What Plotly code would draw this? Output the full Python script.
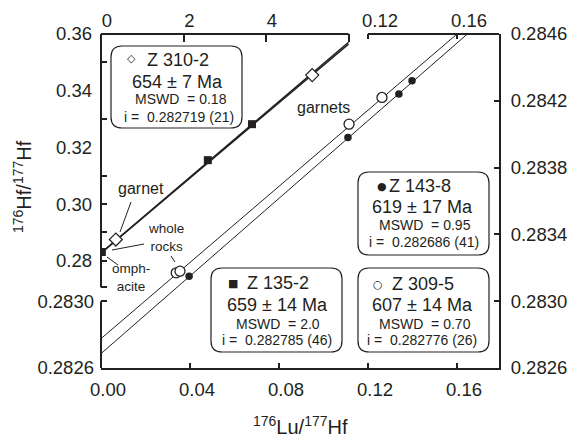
import math
import plotly.graph_objects as go

FONT = "Liberation Sans, Arial, Helvetica, sans-serif"
SYMFONT = "DejaVu Sans, Liberation Sans, sans-serif"
INK = "#231f20"

# ---------------- data ----------------
# Inset isochron (top axis 176Lu/177Hf 0-6, left axis 0.28-0.36)
z310_x = [0.36, 5.12]            # Z 310-2: whole rock, garnet (open diamonds)
z310_y = [0.2875, 0.3455]
z135_x = [0.02, 2.59, 3.66]      # Z 135-2: omphacite + garnets (filled squares)
z135_y = [0.2831, 0.3155, 0.3282]

# Main isochron (bottom axis 0-0.18, right axis 0.2826-0.2846)
z309_x = [0.0338, 0.0355, 0.1115, 0.1263]   # Z 309-5 open circles
z309_y = [0.28317, 0.28318, 0.28406, 0.28422]
z143_x = [0.0396, 0.1110, 0.1339, 0.1398]   # Z 143-8 filled circles
z143_y = [0.28315, 0.28398, 0.28424, 0.28432]

samples = ["Z 310-2", "Z 135-2", "Z 143-8", "Z 309-5"]
ages = [654, 659, 619, 607]
age_err = [7, 14, 17, 14]
mswd = ["0.18", "2.0", "0.95", "0.70"]
initials = [0.282719, 0.282785, 0.282686, 0.282776]
init_err = [21, 46, 41, 26]
LAMBDA = 1.867e-11  # 176Lu decay constant (1/yr)

bottom_ticks = [0.00, 0.04, 0.08, 0.12, 0.16]
right_ticks = [0.2826, 0.2830, 0.2834, 0.2838, 0.2842, 0.2846]
top_left_ticks = [0, 2, 4, 6]
top_left_labels = ["0", "2", "4", " "]
top_right_ticks = [0.12, 0.16]
left_upper_ticks = [0.28, 0.30, 0.32, 0.34, 0.36]
left_upper_minor = [0.2707, 0.28, 0.29, 0.30, 0.31, 0.33, 0.35]
left_lower_ticks = [0.2826, 0.2830]

# ---------------- geometry ----------------
W, H = 574, 440
L, R, T, B = 101, 499, 34, 368
X_RANGE = [0, 0.1789]
Y_RANGE = [0.2826, 0.2846]
X2_RANGE = [0, 9.648]
Y2_RANGE = [0.24219, 0.36]
INSET_XMAX = 6


def px(xp):
    return (xp - L) / (R - L)


def py(yp):
    return (B - yp) / (B - T)


def slope(age_ma):
    return math.exp(LAMBDA * age_ma * 1e6) - 1


def iso_line(k, x0, x1):
    s = slope(ages[k])
    return [x0, x1], [initials[k] + s * x0, initials[k] + s * x1]


fig = go.Figure()

# isochron lines
for k, (xa, ya, w) in {1: ("x2", "y2", 1.4), 0: ("x2", "y2", 1.4),
                       3: ("x", "y", 1.0), 2: ("x", "y", 1.0)}.items():
    xmax = INSET_XMAX if xa == "x2" else X_RANGE[1]
    lx, ly = iso_line(k, 0, xmax)
    fig.add_trace(go.Scatter(x=lx, y=ly, xaxis=xa, yaxis=ya, mode="lines",
                             line=dict(color=INK, width=w), hoverinfo="skip",
                             showlegend=False))

# data points
fig.add_trace(go.Scatter(x=z135_x, y=z135_y, xaxis="x2", yaxis="y2", mode="markers",
                         marker=dict(symbol="square", size=8, color=INK),
                         showlegend=False))
fig.add_trace(go.Scatter(x=z310_x, y=z310_y, xaxis="x2", yaxis="y2", mode="markers",
                         marker=dict(symbol="diamond", size=10, color="white",
                                     line=dict(color=INK, width=1.2)),
                         showlegend=False))
fig.add_trace(go.Scatter(x=z143_x, y=z143_y, mode="markers",
                         marker=dict(symbol="circle", size=7.5, color=INK),
                         showlegend=False))
fig.add_trace(go.Scatter(x=z309_x, y=z309_y, mode="markers",
                         marker=dict(symbol="circle", size=10, color="white",
                                     line=dict(color=INK, width=1.3)),
                         showlegend=False))
# dummy traces to instantiate label-only axes
fig.add_trace(go.Scatter(x=[None], y=[None], xaxis="x3", yaxis="y", showlegend=False,
                         hoverinfo="skip"))
fig.add_trace(go.Scatter(x=[None], y=[None], xaxis="x", yaxis="y3", showlegend=False,
                         hoverinfo="skip"))

TICKFONT = dict(family=FONT, size=18.5, color=INK)
common = dict(showgrid=False, zeroline=False, automargin=False, tickcolor=INK,
              tickfont=TICKFONT, tickmode="array")

fig.update_layout(
    width=W, height=H,
    margin=dict(l=L, r=W - R, t=T, b=H - B, pad=0),
    paper_bgcolor="white", plot_bgcolor="white",
    font=dict(family=FONT, color=INK),
    xaxis=dict(range=X_RANGE, side="bottom", anchor="y", showline=True, linewidth=2,
               linecolor=INK, ticks="inside", ticklen=5, tickwidth=1.5,
               tickvals=bottom_ticks, ticktext=[f"{v:.2f}" for v in bottom_ticks],
               ticklabelshift=7, ticklabelstandoff=4, **common),
    yaxis=dict(range=Y_RANGE, side="right", anchor="x", showline=True, linewidth=2,
               linecolor=INK, ticks="inside", ticklen=5, tickwidth=1.5,
               tickvals=right_ticks, ticktext=[f"{v:.4f}" for v in right_ticks],
               ticklabelstandoff=6, **common),
    xaxis2=dict(range=X2_RANGE, side="top", anchor="y", overlaying="x", showline=False,
                ticks="inside", ticklen=8, tickwidth=1.5,
                tickvals=top_left_ticks, ticktext=top_left_labels,
                ticklabelshift=6, ticklabelstandoff=2, **common),
    xaxis3=dict(range=X_RANGE, side="top", anchor="y", overlaying="x", showline=False,
                ticks="inside", ticklen=5, tickwidth=1.5,
                tickvals=top_right_ticks, ticktext=[f"{v:.2f}" for v in top_right_ticks],
                ticklabelshift=12, ticklabelstandoff=2, **common),
    yaxis2=dict(range=Y2_RANGE, side="left", anchor="x", overlaying="y", showline=False,
                ticks="", tickvals=left_upper_ticks,
                ticktext=[f"{v:.2f}" for v in left_upper_ticks],
                minor=dict(tickmode="array", tickvals=left_upper_minor, ticks="inside",
                           ticklen=6, tickwidth=1.5, tickcolor=INK, showgrid=False),
                ticklabelstandoff=8, **common),
    yaxis3=dict(range=Y_RANGE, side="left", anchor="x", overlaying="y", showline=False,
                ticks="inside", ticklen=6, tickwidth=1.5,
                tickvals=left_lower_ticks, ticktext=[f"{v:.4f}" for v in left_lower_ticks],
                ticklabelstandoff=6, **common),
)

shapes = []
# broken axis segments
shapes.append(dict(type="line", xref="x2", yref="paper", x0=0, x1=INSET_XMAX, y0=1, y1=1,
                   line=dict(color=INK, width=2)))
shapes.append(dict(type="line", xref="x", yref="paper", x0=top_right_ticks[0],
                   x1=X_RANGE[1], y0=1, y1=1, line=dict(color=INK, width=2)))
shapes.append(dict(type="line", xref="paper", yref="y2", x0=0, x1=0,
                   y0=left_upper_minor[0], y1=Y2_RANGE[1], line=dict(color=INK, width=2)))
shapes.append(dict(type="line", xref="paper", yref="y", x0=0, x1=0,
                   y0=left_lower_ticks[0], y1=left_lower_ticks[1],
                   line=dict(color=INK, width=2)))


def rounded_box(x0p, y0p, x1p, y1p, r=11):
    a, b, c, d = px(x0p), py(y1p), px(x1p), py(y0p)
    rx, ry = r / (R - L), r / (B - T)
    path = (f"M {a+rx},{b} L {c-rx},{b} Q {c},{b} {c},{b+ry} L {c},{d-ry} "
            f"Q {c},{d} {c-rx},{d} L {a+rx},{d} Q {a},{d} {a},{d-ry} L {a},{b+ry} "
            f"Q {a},{b} {a+rx},{b} Z")
    return dict(type="path", xref="paper", yref="paper", path=path,
                fillcolor="white", line=dict(color=INK, width=1.2), layer="above")


boxes = {
    "Z 310-2": (111, 46, 242, 128),
    "Z 143-8": (358, 172, 489, 255),
    "Z 309-5": (358, 268, 489, 352),
    "Z 135-2": (211, 268, 342, 352),
}
for bx in boxes.values():
    shapes.append(rounded_box(*bx))

# leader lines
for (xa, ya, xb, yb) in [(131, 202, 120, 232), (144, 244, 112, 250),
                         (171, 256, 175, 262), (107, 257, 118, 265)]:
    shapes.append(dict(type="line", xref="paper", yref="paper", x0=px(xa), y0=py(ya),
                       x1=px(xb), y1=py(yb), line=dict(color=INK, width=1)))
fig.update_layout(shapes=shapes)

ann = []


def text(t, xp, yp, size, xanchor="center", family=FONT, angle=0):
    ann.append(dict(text=t, x=px(xp), y=py(yp), xref="paper", yref="paper",
                    xanchor=xanchor, yanchor="middle", showarrow=False,
                    textangle=angle, font=dict(family=family, size=size, color=INK)))


symbols = {"Z 310-2": "◇", "Z 135-2": "■", "Z 143-8": "●", "Z 309-5": "○"}
layout_txt = {
    "Z 310-2": dict(sym=(131, 59), name=(145, 60), age=(177, 82), ms=(181, 99), i=(179, 117)),
    "Z 143-8": dict(sym=(382, 186), name=(387, 186), age=(422, 207), ms=(425, 225), i=(424, 242)),
    "Z 309-5": dict(sym=(378, 284), name=(390, 284), age=(422, 305), ms=(425, 324), i=(422, 340)),
    "Z 135-2": dict(sym=(233, 283), name=(245, 283), age=(277, 305), ms=(278, 324), i=(277, 340)),
}
NB = "\u00a0"
for k, s in enumerate(samples):
    p = layout_txt[s]
    text(symbols[s], *p["sym"], 11, family=SYMFONT)
    text(s, *p["name"], 18, xanchor="left")
    text(f"{ages[k]} ± {age_err[k]} Ma", *p["age"], 18)
    text(f"MSWD{NB}{NB}={NB}{mswd[k]}", *p["ms"], 14)
    text(f"i{NB}={NB}{NB}{initials[k]:.6f} ({init_err[k]})", *p["i"], 14)

# point labels
text("garnet", 141, 188, 16)
text("whole<br>rocks", 166, 238, 13.5)
text("omph-<br>acite", 131, 277, 13.5)
text("garnets", 323, 108, 16)

# axis titles
text("<sup>176</sup>Hf/<sup>177</sup>Hf", 22, 187, 20, angle=-90)
text("<sup>176</sup>Lu/<sup>177</sup>Hf", 300, 425, 20)

fig.update_layout(annotations=ann)
fig.write_html("out.html",
               config={"displayModeBar": False},
               post_script="document.body.style.margin='0';"
                           "document.body.style.overflow='hidden';")
